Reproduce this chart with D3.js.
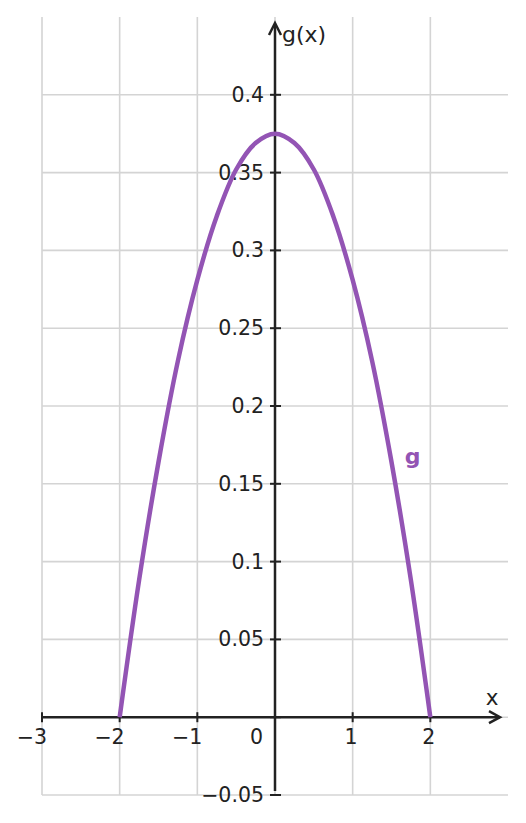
<!DOCTYPE html>
<html>
<head>
<meta charset="utf-8">
<script src="https://cdn.jsdelivr.net/npm/d3@7"></script>
<style>
  body { margin: 0; background: #fff; }
  text { font-family: "DejaVu Sans", sans-serif; fill: #222; }
</style>
</head>
<body>
<script>
// curve samples
var xs = [-2, -1.75, -1.5, -1.25, -1, -0.75, -0.5, -0.25, 0, 0.25, 0.5, 0.75, 1, 1.25, 1.5, 1.75, 2];
var gs = [0, 0.088, 0.164, 0.229, 0.281, 0.322, 0.352, 0.369, 0.375, 0.369, 0.352, 0.322, 0.281, 0.229, 0.164, 0.088, 0];

var xTicks = [-3, -2, -1, 0, 1, 2];
var yTicks = [-0.05, 0.05, 0.1, 0.15, 0.2, 0.25, 0.3, 0.35, 0.4];
var yTickLabels = ["−0.05", "0.05", "0.1", "0.15", "0.2", "0.25", "0.3", "0.35", "0.4"];

var width = 526, height = 823;
var purple = "#9354b4";
var fs = "20.5px";

var x = d3.scaleLinear().domain([-3, 3]).range([42, 508]);
var y = d3.scaleLinear().domain([-0.05, 0.45]).range([795, 17]);

var svg = d3.select("body").append("svg")
    .attr("width", width)
    .attr("height", height);

// grid
svg.append("g").selectAll("line")
    .data(xTicks)
    .enter().append("line")
    .attr("x1", d => x(d)).attr("x2", d => x(d))
    .attr("y1", y(-0.05)).attr("y2", y(0.45))
    .attr("stroke", "#d4d4d4").attr("stroke-width", 1.6);

svg.append("g").selectAll("line")
    .data(yTicks.concat([0]))
    .enter().append("line")
    .attr("x1", x(-3)).attr("x2", x(3))
    .attr("y1", d => y(d)).attr("y2", d => y(d))
    .attr("stroke", "#d4d4d4").attr("stroke-width", 1.6);

// axes lines
var axisColor = "#222";
svg.append("line")
    .attr("x1", x(-3)).attr("x2", 500)
    .attr("y1", y(0)).attr("y2", y(0))
    .attr("stroke", axisColor).attr("stroke-width", 2.5);
svg.append("line")
    .attr("x1", x(0)).attr("x2", x(0))
    .attr("y1", 791).attr("y2", 24)
    .attr("stroke", axisColor).attr("stroke-width", 2.5);

// arrow heads
svg.append("path")
    .attr("d", "M" + (500 - 11) + "," + (y(0) - 6) + "L500," + y(0) + "L" + (500 - 11) + "," + (y(0) + 6))
    .attr("fill", "none").attr("stroke", axisColor).attr("stroke-width", 2.5);
svg.append("path")
    .attr("d", "M" + (x(0) - 6) + "," + 35 + "L" + x(0) + ",23L" + (x(0) + 6) + "," + 35)
    .attr("fill", "none").attr("stroke", axisColor).attr("stroke-width", 2.5);

// x ticks
svg.append("g").selectAll("line")
    .data(xTicks)
    .enter().append("line")
    .attr("x1", d => x(d)).attr("x2", d => x(d))
    .attr("y1", y(0) - 5).attr("y2", y(0) + 5)
    .attr("stroke", axisColor).attr("stroke-width", 2);

svg.append("g").selectAll("text")
    .data(xTicks.filter(d => d !== 0))
    .enter().append("text")
    .attr("x", d => x(d) + 5)
    .attr("y", y(0) + 27)
    .attr("text-anchor", "end")
    .style("font-size", fs)
    .text(d => d < 0 ? "−" + Math.abs(d) : d);

svg.append("text")
    .attr("x", x(0) - 12)
    .attr("y", y(0) + 27)
    .attr("text-anchor", "end")
    .style("font-size", fs)
    .text("0");

// y ticks
svg.append("g").selectAll("line")
    .data(yTicks.concat([0]))
    .enter().append("line")
    .attr("x1", x(0) - 5).attr("x2", x(0) + 6)
    .attr("y1", d => y(d)).attr("y2", d => y(d))
    .attr("stroke", axisColor).attr("stroke-width", 2);

svg.append("g").selectAll("text")
    .data(yTicks)
    .enter().append("text")
    .attr("x", x(0) - 11)
    .attr("y", d => y(d))
    .attr("dy", "0.34em")
    .attr("text-anchor", "end")
    .style("font-size", fs)
    .text((d, i) => yTickLabels[i]);

// axis labels
svg.append("text")
    .attr("x", 492).attr("y", 705)
    .attr("text-anchor", "middle")
    .style("font-size", "21.5px")
    .text("x");
svg.append("text")
    .attr("x", 282).attr("y", 42)
    .style("font-size", "22px")
    .text("g(x)");

// curve
var points = xs.map((d, i) => [d, gs[i]]);
var line = d3.line()
    .x(d => x(d[0]))
    .y(d => y(d[1]))
    .curve(d3.curveCatmullRom);

svg.append("path")
    .datum(points)
    .attr("d", line)
    .attr("fill", "none")
    .attr("stroke", purple)
    .attr("stroke-width", 4.5);

svg.append("text")
    .attr("x", x(1.67)).attr("y", y(0.163))
    .style("font-size", "22px")
    .style("font-weight", "bold")
    .style("fill", purple)
    .text("g");
</script>
</body>
</html>
